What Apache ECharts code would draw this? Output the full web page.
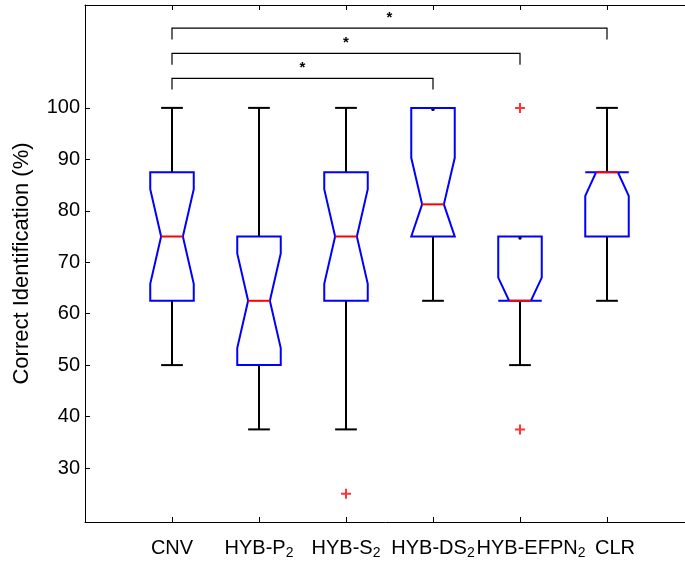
<!DOCTYPE html>
<html>
<head>
<meta charset="utf-8">
<script src="https://cdn.jsdelivr.net/npm/echarts@6/dist/echarts.min.js"></script>
<style>
  html, body { margin: 0; padding: 0; background: #fff; }
  #chart { width: 685px; height: 563px; }
</style>
</head>
<body>
<div id="chart"></div>
<script>
// Group names (main part + subscript)
const categories = ['CNV', 'HYB-P', 'HYB-S', 'HYB-DS', 'HYB-EFPN', 'CLR'];
const subscripts = ['', '2', '2', '2', '2', ''];

// Box statistics per group (% correct identification)
const whiskerLow  = [50, 37.5, 37.5, 62.5, 50, 62.5];
const boxLow      = [62.5, 50, 62.5, 75, 62.5, 75];
const medians     = [75, 62.5, 75, 81.25, 62.5, 87.5];
const boxHigh     = [87.5, 75, 87.5, 100, 75, 87.5];
const whiskerHigh = [100, 100, 100, 100, 75, 100];
// Notch extents (clipped to the box)
const notchLow  = [65.8, 53.3, 65.8, 75, 62.5, 82.9];
const notchHigh = [84.2, 71.7, 84.2, 90.3, 67.0, 87.5];

// Outliers: [group position, value]
const outliers = [[3, 25], [5, 100], [5, 37.5]];

// Y tick labels
const yTicks = [30, 40, 50, 60, 70, 80, 90, 100];

// Significance brackets: [from group, to group, bracket level, mark]
const brackets = [
  [1, 4, 105.75, '*'],
  [1, 5, 110.6, '*'],
  [1, 6, 115.5, '*']
];

const FONT = '"Liberation Sans", Arial, Helvetica, sans-serif';
const BOX_HALF = 0.25;
const NOTCH_HALF = 0.125;
const CAP_HALF = 0.125;
// rich-text style key per label; the last two labels are nudged right so they don't collide
const labelStyleKey = ['m', 'm', 'm', 'm', 'mR1', 'mR2'];

const boxData = categories.map((c, i) => [
  i + 1, whiskerLow[i], boxLow[i], medians[i], boxHigh[i], whiskerHigh[i], notchLow[i], notchHigh[i]
]);

function renderBox(params, api) {
  const x = api.value(0);
  const wl = api.value(1), q1 = api.value(2), med = api.value(3),
        q3 = api.value(4), wh = api.value(5), nlo = api.value(6), nhi = api.value(7);
  const p = (dx, v) => api.coord([x + dx, v]);
  const blackLine = { stroke: '#000', lineWidth: 2, fill: null };
  const children = [];

  // whiskers and caps
  if (wh > q3) {
    const a = p(0, q3), b = p(0, wh);
    children.push({ type: 'line', shape: { x1: a[0], y1: a[1], x2: b[0], y2: b[1] }, style: blackLine });
    const c1 = p(-CAP_HALF, wh), c2 = p(CAP_HALF, wh);
    children.push({ type: 'line', shape: { x1: c1[0], y1: c1[1], x2: c2[0], y2: c2[1] }, style: blackLine });
  } else {
    const d = p(0, wh);
    children.push({ type: 'circle', shape: { cx: d[0], cy: d[1] + 1.5, r: 1.7 }, style: { fill: '#000' } });
  }
  if (wl < q1) {
    const a = p(0, q1), b = p(0, wl);
    children.push({ type: 'line', shape: { x1: a[0], y1: a[1], x2: b[0], y2: b[1] }, style: blackLine });
    const c1 = p(-CAP_HALF, wl), c2 = p(CAP_HALF, wl);
    children.push({ type: 'line', shape: { x1: c1[0], y1: c1[1], x2: c2[0], y2: c2[1] }, style: blackLine });
  } else {
    const d = p(0, wl);
    children.push({ type: 'circle', shape: { cx: d[0], cy: d[1] - 1.5, r: 1.7 }, style: { fill: '#000' } });
  }

  // notched box
  const pts = [
    p(-BOX_HALF, q1), p(-BOX_HALF, nlo), p(-NOTCH_HALF, med), p(-BOX_HALF, nhi), p(-BOX_HALF, q3),
    p(BOX_HALF, q3), p(BOX_HALF, nhi), p(NOTCH_HALF, med), p(BOX_HALF, nlo), p(BOX_HALF, q1)
  ];
  children.push({ type: 'polygon', shape: { points: pts }, style: { stroke: '#0000ff', lineWidth: 2, fill: null, lineJoin: 'miter' } });

  // median
  const m1 = p(-NOTCH_HALF, med), m2 = p(NOTCH_HALF, med);
  children.push({ type: 'line', shape: { x1: m1[0], y1: m1[1], x2: m2[0], y2: m2[1] }, style: { stroke: '#ff0000', lineWidth: 2 } });

  return { type: 'group', children };
}

function renderBracket(params, api) {
  const from = api.value(0), to = api.value(1), level = api.value(2);
  const leg = 2.2;
  const pts = [api.coord([from, level - leg]), api.coord([from, level]), api.coord([to, level]), api.coord([to, level - leg])];
  const star = api.coord([(from + to) / 2, level + 2.0]);
  return {
    type: 'group',
    children: [
      { type: 'polyline', shape: { points: pts }, style: { stroke: '#000', lineWidth: 1.2, fill: null } },
      { type: 'text', x: star[0], y: star[1],
        style: { text: brackets[params.dataIndex][3], font: 'bold 15px ' + FONT, fill: '#000', align: 'center', verticalAlign: 'middle' } }
    ]
  };
}

const chart = echarts.init(document.getElementById('chart'), null, { renderer: 'canvas' });

const mainLabel = { fontSize: 20, fontFamily: FONT, color: '#000', verticalAlign: 'top', lineHeight: 22 };

chart.setOption({
  animation: false,
  backgroundColor: '#fff',
  grid: { left: 85, top: 5, width: 609, height: 517, outerBoundsMode: 'none', containLabel: false },
  xAxis: [
    {
      type: 'value', position: 'bottom', min: 0, max: 7, interval: 1,
      axisLine: { show: true, lineStyle: { color: '#000', width: 1 } },
      axisTick: { show: true, inside: true, length: 5, lineStyle: { color: '#000' } },
      splitLine: { show: false },
      axisLabel: {
        margin: 16,
        hideOverlap: false,
        formatter: function (v) {
          const i = Math.round(v) - 1;
          if (i < 0 || i >= categories.length) return '';
          const key = labelStyleKey[i];
          return subscripts[i] ? '{' + key + '|' + categories[i] + '}{s|' + subscripts[i] + '}' : '{' + key + '|' + categories[i] + '}';
        },
        rich: {
          m: mainLabel,
          mR1: Object.assign({}, mainLabel, { padding: [0, 0, 0, 22] }),
          mR2: Object.assign({}, mainLabel, { padding: [0, 0, 0, 16] }),
          s: { fontSize: 14, fontFamily: FONT, color: '#000', verticalAlign: 'bottom', lineHeight: 14, padding: [11, 0, 0, 0] }
        }
      }
    },
    {
      type: 'value', position: 'top', min: 0, max: 7, interval: 1,
      axisLine: { show: true, lineStyle: { color: '#000', width: 1 } },
      axisTick: { show: true, inside: true, length: 5, lineStyle: { color: '#000' } },
      axisLabel: { show: false },
      splitLine: { show: false }
    }
  ],
  yAxis: {
    type: 'value', min: 19.5, max: 120,
    name: 'Correct Identification (%)',
    nameLocation: 'middle', nameGap: 52,
    nameTextStyle: { fontSize: 22, fontFamily: FONT, color: '#000' },
    axisLine: { show: true, lineStyle: { color: '#000', width: 1 } },
    axisTick: { show: true, inside: true, length: 5, customValues: yTicks, lineStyle: { color: '#000' } },
    axisLabel: { customValues: yTicks, fontSize: 20, fontFamily: FONT, color: '#000', margin: 5 },
    splitLine: { show: false }
  },
  series: [
    {
      type: 'custom', name: 'boxes', xAxisIndex: 0,
      renderItem: renderBox,
      data: boxData,
      encode: { x: 0, y: [1, 2, 3, 4, 5] },
      clip: false
    },
    {
      type: 'scatter', name: 'outliers', xAxisIndex: 0,
      symbol: 'path://M4,0H6V4H10V6H6V10H4V6H0V4H4Z',
      symbolSize: 10,
      itemStyle: { color: '#ff0000' },
      data: outliers
    },
    {
      type: 'custom', name: 'significance', xAxisIndex: 0,
      renderItem: renderBracket,
      data: brackets.map(b => [b[0], b[1], b[2]]),
      encode: { x: [0, 1], y: 2 },
      clip: false
    }
  ]
});
</script>
</body>
</html>
